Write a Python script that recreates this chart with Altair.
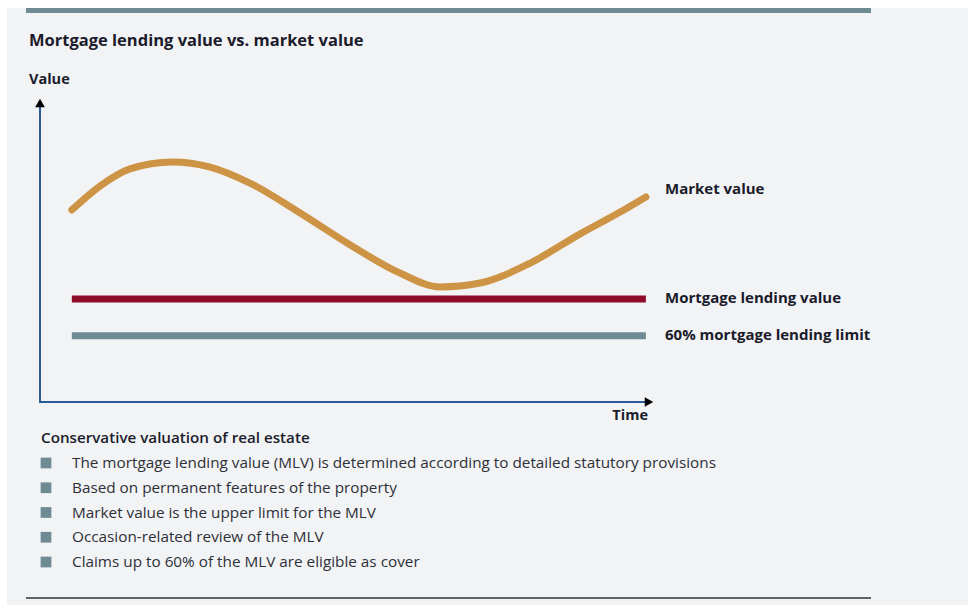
import altair as alt
import pandas as pd

# ---------------- data ----------------
time = [5.2, 9.8, 14.7, 21.6, 27.8, 34.3, 42.5, 50.7, 58.8, 65.4, 71.9, 80.1, 88.2, 94.8, 99.0]
market_value = [63.6, 71.5, 77.2, 79.5, 77.8, 72.5, 62.6, 52.0, 42.7, 38.1, 39.4, 46.0, 55.6, 62.9, 67.9]

level_names = ["Mortgage lending value", "60% mortgage lending limit"]
level_values = [34.1, 21.9]
level_start = [5.2, 5.2]
level_end = [99.0, 99.0]

series_labels = ["Market value", "Mortgage lending value", "60% mortgage lending limit"]

title_text = "Mortgage lending value vs. market value"
y_title = "Value"
x_title = "Time"
list_title = "Conservative valuation of real estate"
bullets = [
    "The mortgage lending value (MLV) is determined according to detailed statutory provisions",
    "Based on permanent features of the property",
    "Market value is the upper limit for the MLV",
    "Occasion-related review of the MLV",
    "Claims up to 60% of the MLV are eligible as cover",
]

# ---------------- styling ----------------
W, H = 968, 605
FONT = "Open Sans"
TXT = "#1b1b2b"
BODY = "#2e3038"
GOLD = "#cc9444"
RED = "#8e0b2b"
SLATE = "#6e8a93"
AXIS = "#2a5a98"
BG = "#f2f3f5"

xs = alt.Scale(domain=[0, 100], range=[40, 652])
ys = alt.Scale(domain=[0, 100], range=[402, 100])

curve_df = pd.DataFrame({"t": time, "v": market_value})
levels_df = pd.DataFrame({"name": level_names, "v": level_values,
                          "t0": level_start, "t1": level_end})
levels_df["color"] = [RED, SLATE]
bul_df = pd.DataFrame({"i": list(range(len(bullets))), "text": bullets})

one = pd.DataFrame({"k": [0]})
base = alt.Chart(one)

background = base.mark_rect(color=BG).encode(
    x=alt.value(7), x2=alt.value(W), y=alt.value(8), y2=alt.value(H))
top_bar = base.mark_rect(color=SLATE).encode(
    x=alt.value(26), x2=alt.value(871), y=alt.value(8), y2=alt.value(13))
bottom_rule = base.mark_rule(color="#5f6266", strokeWidth=2).encode(
    x=alt.value(26), x2=alt.value(871), y=alt.value(598))

def txt(s, x, y, size, weight="bold", align="left", color=TXT):
    return base.mark_text(text=s, font=FONT, fontSize=size, fontWeight=weight,
                          align=align, baseline="middle", color=color).encode(
        x=alt.value(x), y=alt.value(y))

title = txt(title_text, 29, 41, 16.5)
ylab = txt(y_title, 29, 80, 14.5)
xlab = txt(x_title, 648, 416, 14.5, align="right")
lab1 = txt(series_labels[0], 665, 189, 15)
lab2 = txt(series_labels[1], 665, 298, 15)
lab3 = txt(series_labels[2], 665, 335, 15)
ltitle = txt(list_title, 41, 438, 15.2, weight=600)

y_axis = base.mark_rule(color=AXIS, strokeWidth=2).encode(
    x=alt.value(40), y=alt.value(106), y2=alt.value(403))
x_axis = base.mark_rule(color=AXIS, strokeWidth=2).encode(
    x=alt.value(40), x2=alt.value(646), y=alt.value(402))
y_arrow = base.mark_point(shape="triangle-up", filled=True, color="black",
                          size=95, opacity=1).encode(x=alt.value(40), y=alt.value(103))
x_arrow = base.mark_point(shape="triangle-right", filled=True, color="black",
                          size=95, opacity=1).encode(x=alt.value(649), y=alt.value(402))

levels = alt.Chart(levels_df).mark_rule(strokeWidth=7).encode(
    x=alt.X("t0:Q", scale=xs, axis=None),
    x2="t1:Q",
    y=alt.Y("v:Q", scale=ys, axis=None),
    color=alt.Color("color:N", scale=None),
)

curve = alt.Chart(curve_df).mark_line(
    interpolate="monotone", strokeWidth=7, strokeCap="round", color=GOLD
).encode(
    x=alt.X("t:Q", scale=xs, axis=None),
    y=alt.Y("v:Q", scale=ys, axis=None),
)

bscale = alt.Scale(domain=[0, len(bullets) - 1], range=[463, 562])
bullet_sq = alt.Chart(bul_df).mark_square(size=115, color=SLATE, opacity=1, filled=True).encode(
    x=alt.value(46),
    y=alt.Y("i:Q", scale=bscale, axis=None),
)
bullet_txt = alt.Chart(bul_df).mark_text(
    font=FONT, fontSize=15.3, align="left", baseline="middle", color=BODY
).encode(
    x=alt.value(72),
    y=alt.Y("i:Q", scale=bscale, axis=None),
    text="text:N",
)

chart = alt.layer(
    background, top_bar, bottom_rule,
    title, ylab, xlab,
    y_axis, x_axis, y_arrow, x_arrow,
    levels, curve,
    lab1, lab2, lab3,
    ltitle, bullet_sq, bullet_txt,
).resolve_scale(x="independent", y="independent").properties(
    width=W, height=H, padding=0, background="white",
    autosize=alt.AutoSizeParams(type="none"),
).configure_view(stroke=None)

chart.save("out.html", embed_options={"renderer": "svg", "actions": False})
